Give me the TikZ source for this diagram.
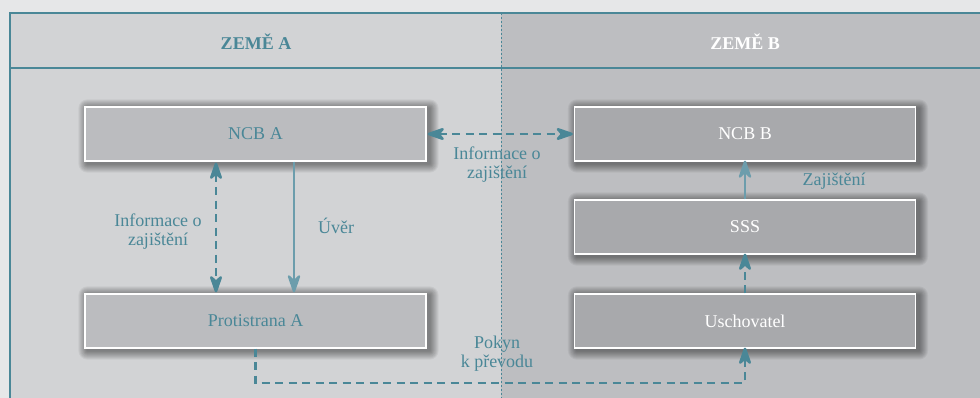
\documentclass[tikz,border=0pt]{standalone}
\usepackage{fontspec}
\setmainfont{Liberation Serif}
\usetikzlibrary{arrows.meta,backgrounds,calc}
\definecolor{tyrkys}{HTML}{4A8797}
\definecolor{tyrkyssvetla}{HTML}{6C9DAC}
\definecolor{okoli}{HTML}{E6E7E8}
\definecolor{zemea}{HTML}{D2D3D5}
\definecolor{zemeb}{HTML}{BDBEC1}
\definecolor{boxa}{HTML}{BBBCBF}
\definecolor{boxb}{HTML}{A8A9AC}
\tikzset{
	blok/.style={rectangle,draw=white,line width=1.2pt,minimum width=341pt,minimum height=54pt,
		font=\fontsize{18}{19}\selectfont},
	bloka/.style={blok,fill=boxa,text=tyrkys},
	blokb/.style={blok,fill=boxb,text=white},
	popis/.style={text=tyrkys,align=center,font=\fontsize{18}{19}\selectfont},
	prerus/.style={draw=tyrkys,line width=2.6pt,dash pattern=on 8pt off 5.5pt},
	plna/.style={draw=tyrkyssvetla,line width=2.2pt},
	>={Stealth[length=22pt 0 0,width=15pt 0 0,inset=7pt 0,round=false]}
}
\begin{document}
\begin{tikzpicture}[x=1pt,y=1pt]
			          \useasboundingbox (0,0) rectangle (980,-398);
			          \node[text=tyrkys,font=\bfseries\fontsize{18}{19}\selectfont] (zemea) at (256,-42) {ZEMĚ A};
			          \node[text=white,font=\bfseries\fontsize{18}{19}\selectfont] (zemeb) at (745,-42) {ZEMĚ B};
			          
			          \node[bloka] (ncba) at (255.5,-134) {NCB A};
			          \node[bloka] (prot) at (255.5,-321) {Protistrana A};
			          \node[blokb] (ncbb) at (745,-134) {NCB B};
			          \node[blokb] (sss) at (745,-227) {SSS};
			          \node[blokb] (usch) at (745,-321) {Uschovatel};
			          
			          \draw[prerus,<->] ($(ncba.south)+(-39.5,-1)$) -- ($(prot.north)+(-39.5,1)$);
			          \draw[plna,->] ($(ncba.south)+(38.5,0)$) -- ($(prot.north)+(38.5,1)$);
			          \draw[prerus,<->] ($(ncba.east)+(1,0)$) -- ($(ncbb.west)+(-1,0)$);
			          \draw[plna,->] (sss.north) -- ($(ncbb.south)+(0,1)$);
			          \draw[prerus,->] (usch.north) -- ($(sss.south)+(0,1)$);
			          \coordinate (dole) at (255.5,-383);
			          \draw[prerus,->] (prot.south) -- (dole) -| ($(usch.south)+(0,1)$);
			          
			          \node[popis] (infa) at (158,-232) {Informace o\\zajištění};
			          \node[popis] (uver) at (336,-226) {Úvěr};
			          \node[popis] (infb) at (497,-165) {Informace o\\zajištění};
			          \node[popis] (zaj) at (834,-181) {Zajištění};
			          \node[popis] (pokyn) at (497,-354) {Pokyn\\k převodu};
			          
			          %pozadi, ramec a stiny
			          \begin{scope}[on background layer]
			          \fill[okoli] (0,0) rectangle (980,-398);
			          \fill[zemea] (10,-13) rectangle (501,-398);
			          \fill[zemeb] (501,-13) rectangle (980,-398);
			          \draw[tyrkys,line width=1.2pt] (980,-13) -- (10,-13) -- (10,-398);
			          \draw[tyrkys,line width=1.2pt] (10,-68) -- (980,-68);
			          \draw[tyrkys,line width=0.9pt,dash pattern=on 2pt off 2pt] (501,-13) -- (501,-398);
			          \foreach \n in {ncba,prot,ncbb,sss,usch}
			          	\foreach \i in {1,...,9}
			          		\fill[black,opacity=0.05,rounded corners=\i pt]
			          			($(\n.south west)+(3-\i,-2-\i)$) rectangle ($(\n.north east)+(3+\i,-2+\i)$);
			          \end{scope}
				  \end{tikzpicture}
\end{document}
